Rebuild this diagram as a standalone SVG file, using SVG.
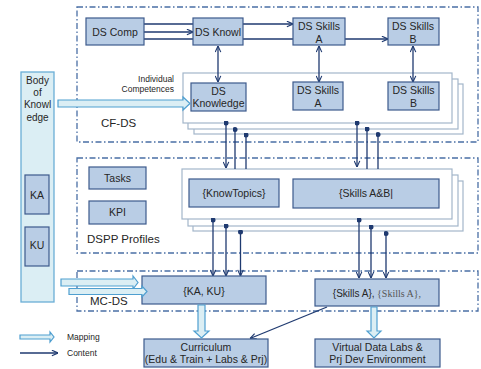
<svg xmlns="http://www.w3.org/2000/svg" width="481" height="369" viewBox="0 0 481 369">
<defs>
<style>
text{font-family:"Liberation Sans",Arial,sans-serif;fill:#262626}
.n{fill:#b9cde5;stroke:#3d5a8c;stroke-width:1.2}
.t{font-size:10.5px;text-anchor:middle}
.zone{fill:none;stroke:#4a6fa5;stroke-width:1.3;stroke-dasharray:6 2.5 1.5 2.5}
.pan{fill:#fff;stroke:#a3b6ca;stroke-width:1.2}
.map{fill:#dbeef4;stroke:#4f9fd0;stroke-width:1.2}
.c{fill:none;stroke:#1f3a70;stroke-width:1.3}
.zl{font-size:11.5px}
.sm{font-size:8.5px}
</style>
<marker id="ah" viewBox="0 0 8 8" refX="7.5" refY="4" markerWidth="7" markerHeight="7" markerUnits="userSpaceOnUse" orient="auto-start-reverse">
<path d="M0.5,0.8 L7.5,4 L0.5,7.2" fill="none" stroke="#1f3a70" stroke-width="1.3"/>
</marker>
<marker id="dot" viewBox="0 0 6 6" refX="3" refY="3" markerWidth="5" markerHeight="5" markerUnits="userSpaceOnUse">
<circle cx="3" cy="3" r="3" fill="#1f3a70"/>
</marker>
</defs>

<g id="zones">
<rect class="zone" x="77" y="7" width="401" height="135"/>
<rect class="zone" x="77" y="158" width="401" height="95"/>
<rect class="zone" x="77" y="271" width="401" height="40"/>
<text class="zl" x="101" y="127">CF-DS</text>
<text class="zl" x="87" y="243">DSPP Profiles</text>
<text class="zl" x="90" y="305">MC-DS</text>
</g>

<g id="competences-panel">
<rect class="pan" x="194" y="84" width="269" height="50"/>
<rect class="pan" x="188" y="79" width="270" height="50"/>
<rect class="pan" x="183" y="73" width="269" height="50"/>
<text class="sm" x="174" y="82" text-anchor="end">Individual</text>
<text class="sm" x="174" y="92" text-anchor="end">Competences</text>
</g>

<g id="dspp-panel">
<rect class="pan" x="193" y="181" width="270" height="50"/>
<rect class="pan" x="188" y="175" width="270" height="51"/>
<rect class="pan" x="182" y="169" width="270" height="50"/>
</g>

<g id="connectors">
<path class="c" d="M144,24 H293" marker-end="url(#ah)"/>
<path class="c" d="M144,32 H193" marker-end="url(#ah)"/>
<path class="c" d="M144,39 H388" marker-end="url(#ah)"/>
<path class="c" d="M218,46 V82" marker-start="url(#ah)" marker-end="url(#ah)"/>
<path class="c" d="M319,46 V82" marker-start="url(#ah)" marker-end="url(#ah)"/>
<path class="c" d="M413,46 V82" marker-start="url(#ah)" marker-end="url(#ah)"/>
<path class="c" d="M226,123 V168" marker-start="url(#dot)" marker-end="url(#ah)"/>
<path class="c" d="M235,129.5 V169" marker-start="url(#dot)"/>
<path class="c" d="M246,135 V169" marker-start="url(#dot)"/>
<path class="c" d="M357,123 V167" marker-start="url(#dot)" marker-end="url(#ah)"/>
<path class="c" d="M367,129 V169" marker-start="url(#dot)"/>
<path class="c" d="M378,134.5 V169" marker-start="url(#dot)"/>
<path class="c" d="M213,220 V276" marker-start="url(#dot)" marker-end="url(#ah)"/>
<path class="c" d="M226,226 V276" marker-start="url(#dot)" marker-end="url(#ah)"/>
<path class="c" d="M240.5,232 V276" marker-start="url(#dot)" marker-end="url(#ah)"/>
<path class="c" d="M359,220 V278" marker-start="url(#dot)" marker-end="url(#ah)"/>
<path class="c" d="M371,227 V278" marker-start="url(#dot)" marker-end="url(#ah)"/>
<path class="c" d="M386,233.5 V278" marker-start="url(#dot)" marker-end="url(#ah)"/>
<path class="c" d="M327,307 L250,338.5" marker-end="url(#ah)"/>
<path class="c" d="M20,353 H58" marker-end="url(#ah)"/>
</g>

<g id="ds-comp"><rect class="n" x="86" y="18" width="58" height="27"/><text class="t" x="115" y="36">DS Comp</text></g>
<g id="ds-knowl"><rect class="n" x="193" y="18" width="50" height="27"/><text class="t" x="218" y="36">DS Knowl</text></g>
<g id="ds-skills-a-top"><rect class="n" x="293" y="18" width="52" height="27"/><text class="t" x="319" y="30">DS Skills</text><text class="t" x="319" y="43">A</text></g>
<g id="ds-skills-b-top"><rect class="n" x="388" y="18" width="51" height="27"/><text class="t" x="413" y="30">DS Skills</text><text class="t" x="413" y="43">B</text></g>

<g id="ds-knowledge"><rect class="n" x="191" y="83" width="55" height="28"/><text class="t" x="218.5" y="95">DS</text><text class="t" x="218.5" y="107">Knowledge</text></g>
<g id="ds-skills-a"><rect class="n" x="293" y="82" width="50" height="28"/><text class="t" x="318" y="94">DS Skills</text><text class="t" x="318" y="107">A</text></g>
<g id="ds-skills-b"><rect class="n" x="388" y="82" width="51" height="28"/><text class="t" x="413.5" y="94">DS Skills</text><text class="t" x="413.5" y="107">B</text></g>

<g id="body-of-knowledge">
<rect x="21" y="72" width="33" height="230" fill="#dbeef4" stroke="#6aaed6" stroke-width="1.3"/>
<text class="t" x="37.5" y="84" style="font-size:10px">Body</text>
<text class="t" x="37.5" y="96" style="font-size:10px">of</text>
<text class="t" x="37.5" y="108" style="font-size:10px">Knowl</text>
<text class="t" x="37.5" y="121" style="font-size:10px">edge</text>
</g>
<g id="ka"><rect class="n" x="25" y="175" width="24" height="39"/><text class="t" x="37" y="199">KA</text></g>
<g id="ku"><rect class="n" x="25" y="227" width="24" height="39"/><text class="t" x="37" y="249">KU</text></g>

<g id="tasks"><rect class="n" x="89" y="167" width="57" height="22"/><text class="t" x="117.5" y="182">Tasks</text></g>
<g id="kpi"><rect class="n" x="89" y="201" width="57" height="23"/><text class="t" x="117.5" y="216">KPI</text></g>

<g id="know-topics"><rect class="n" x="189" y="179" width="90" height="28"/><text class="t" x="234" y="197">{KnowTopics}</text></g>
<g id="skills-ab"><rect class="n" x="293" y="179" width="146" height="29"/><text class="t" x="366" y="197">{Skills A&amp;B|</text></g>

<g id="ka-ku"><rect class="n" x="142" y="276" width="124" height="28"/><text class="t" x="204" y="295">{KA, KU}</text></g>
<g id="skills-a-set"><rect class="n" x="315" y="279" width="124" height="27"/><text x="377" y="297" text-anchor="middle" style="font-size:10px"><tspan>{Skills A},</tspan><tspan style="font-family:'Liberation Serif',serif;fill:#555"> {Skills A},</tspan></text></g>

<g id="curriculum"><rect class="n" x="144" y="339" width="124" height="28"/><text class="t" x="206" y="351">Curriculum</text><text class="t" x="206" y="363">(Edu &amp; Train + Labs &amp; Prj)</text></g>
<g id="virtual-labs"><rect class="n" x="315" y="339" width="125" height="28"/><text class="t" x="377.5" y="351">Virtual Data Labs &amp;</text><text class="t" x="377.5" y="363">Prj Dev Environment</text></g>

<g id="mapping-arrows">
<polygon class="map" points="58,100 183,100 183,97 190,103.5 183,110 183,107 58,107"/>
<polygon class="map" points="61,279 133,279 133,276 138,282.5 133,289 133,286 61,286"/>
<polygon class="map" points="69,288.5 142,288.5 142,286 147,291.5 142,297 142,294.5 69,294.5"/>
<polygon class="map" points="198,305 205,305 205,331 209,331 201.5,338 194,331 198,331"/>
<polygon class="map" points="371,307 377,307 377,331 381,331 374,338 367,331 371,331"/>
<polygon class="map" points="20,335 50,335 50,332 54,337 50,342 50,339 20,339"/>
</g>

<g id="legend">
<text class="sm" x="67" y="340">Mapping</text>
<text class="sm" x="67" y="356">Content</text>
</g>
</svg>
